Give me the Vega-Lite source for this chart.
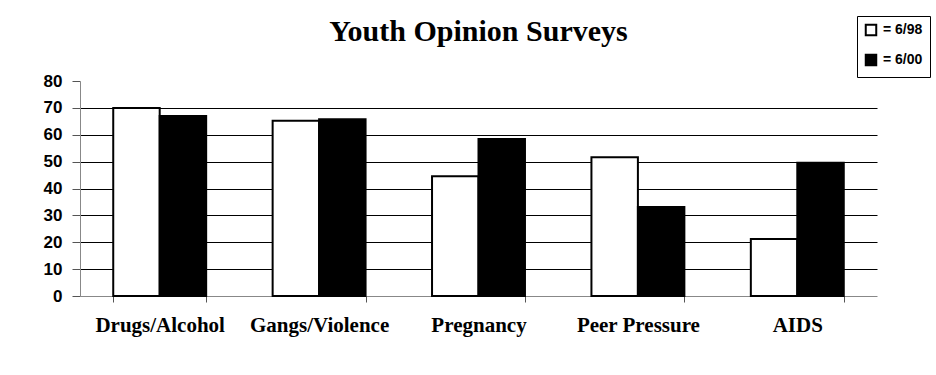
{
  "$schema": "https://vega.github.io/schema/vega-lite/v6.json",
  "width": 797,
  "height": 215,
  "autosize": "none",
  "padding": {"left": 80, "top": 81, "right": 59, "bottom": 79},
  "background": "white",
  "title": {
    "text": "Youth Opinion Surveys",
    "font": "Liberation Serif",
    "fontSize": 30,
    "fontWeight": "bold",
    "color": "black",
    "anchor": "middle",
    "frame": "group",
    "baseline": "bottom",
    "offset": -61
  },
  "data": {
    "values": [
      {"topic": "Drugs/Alcohol", "survey": "6/98", "value": 70},
      {"topic": "Drugs/Alcohol", "survey": "6/00", "value": 67},
      {"topic": "Gangs/Violence", "survey": "6/98", "value": 65.2},
      {"topic": "Gangs/Violence", "survey": "6/00", "value": 65.8},
      {"topic": "Pregnancy", "survey": "6/98", "value": 44.6},
      {"topic": "Pregnancy", "survey": "6/00", "value": 58.4},
      {"topic": "Peer Pressure", "survey": "6/98", "value": 51.6},
      {"topic": "Peer Pressure", "survey": "6/00", "value": 33.1},
      {"topic": "AIDS", "survey": "6/98", "value": 21.2},
      {"topic": "AIDS", "survey": "6/00", "value": 49.6}
    ]
  },
  "mark": {"type": "bar", "stroke": "black", "strokeWidth": 2},
  "encoding": {
    "x": {
      "field": "topic",
      "type": "nominal",
      "sort": null,
      "scale": {"paddingInner": 0.417, "paddingOuter": 0.2085},
      "axis": {
        "title": null,
        "labelAngle": 0,
        "labelFont": "Liberation Serif",
        "labelFontWeight": "bold",
        "labelFontSize": 21,
        "labelColor": "black",
        "labelPadding": 12,
        "tickBand": "extent",
        "tickSize": 6,
        "tickColor": "#555",
        "domainColor": "#888",
        "grid": false
      }
    },
    "xOffset": {"field": "survey", "type": "nominal", "sort": ["6/98", "6/00"]},
    "y": {
      "field": "value",
      "type": "quantitative",
      "scale": {"domain": [0, 80], "nice": false},
      "axis": {
        "title": null,
        "values": [0, 10, 20, 30, 40, 50, 60, 70, 80],
        "labelFont": "Liberation Sans",
        "labelFontWeight": "bold",
        "labelFontSize": 17,
        "labelColor": "black",
        "labelPadding": 10,
        "tickSize": 8,
        "tickColor": "#555",
        "domainColor": "#888",
        "grid": true,
        "gridColor": {"condition": {"test": "datum.value == 80 || datum.value == 0", "value": "transparent"}, "value": "black"},
        "gridOpacity": 1
      }
    },
    "fill": {
      "field": "survey",
      "type": "nominal",
      "sort": ["6/98", "6/00"],
      "scale": {"domain": ["6/98", "6/00"], "range": ["white", "black"]},
      "legend": {
        "title": null,
        "orient": "none",
        "legendX": 777,
        "legendY": -65,
        "direction": "vertical",
        "strokeColor": "black",
        "padding": 7,
        "symbolType": "square",
        "symbolSize": 110,
        "symbolStrokeColor": "black",
        "symbolStrokeWidth": 2,
        "labelExpr": "'= ' + datum.label",
        "labelFont": "Liberation Sans",
        "labelFontWeight": "bold",
        "labelFontSize": 14,
        "labelColor": "black",
        "labelOffset": 5,
        "rowPadding": 10
      }
    }
  },
  "config": {"view": {"stroke": null}}
}
